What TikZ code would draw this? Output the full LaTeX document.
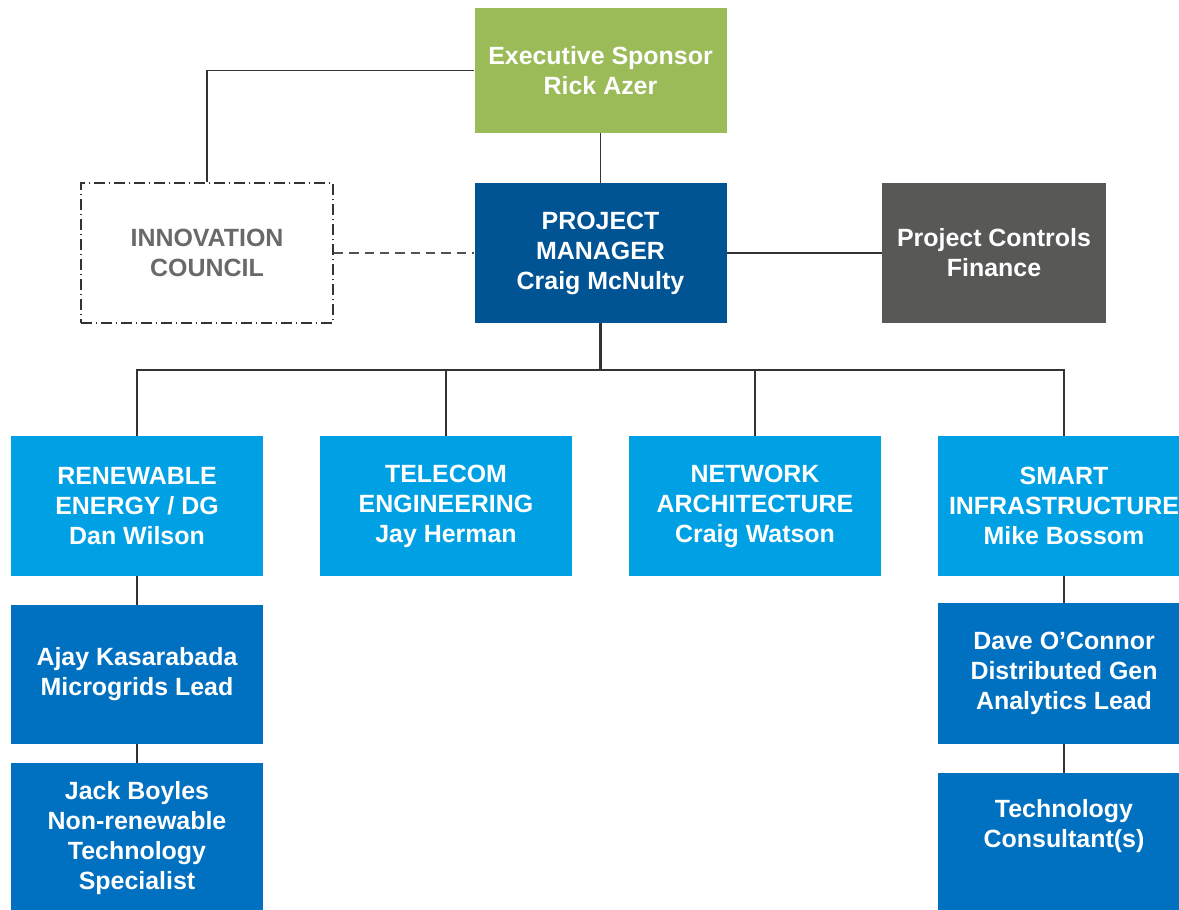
\documentclass[tikz,border=0pt]{standalone}
\usepackage{fontspec}
\setmainfont{Liberation Sans}
\definecolor{esgreen}{RGB}{155,187,89}
\definecolor{pmblue}{RGB}{1,84,148}
\definecolor{ctlgray}{RGB}{88,89,87}
\definecolor{lvlblue}{RGB}{0,161,228}
\definecolor{subblue}{RGB}{0,112,192}
\definecolor{linegray}{RGB}{51,51,51}
\definecolor{txtgray}{RGB}{105,105,105}
\tikzset{
  box/.style={rectangle, inner sep=0pt, align=center, text=white,
    font=\fontsize{18.7}{22.5}\selectfont\bfseries,
    minimum width=252*0.75pt, minimum height=140*0.75pt},
  esbox/.style={box, fill=esgreen, minimum height=125*0.75pt},
  pmbox/.style={box, fill=pmblue},
  ctlbox/.style={box, fill=ctlgray, minimum width=224*0.75pt},
  icbox/.style={box, fill=white, text=txtgray, draw=linegray, line width=1.3pt,
    dash pattern=on 8pt off 3pt on 1pt off 3pt},
  lvlbox/.style={box, fill=lvlblue},
  subbox/.style={box, fill=subblue},
  txt/.style={align=center, text=white, inner sep=0pt,
    font=\fontsize{18.7}{22.5}\selectfont\bfseries},
  conn/.style={draw=linegray, line width=1.1pt},
  dconn/.style={draw=linegray!85, line width=1.3pt, dash pattern=on 7pt off 4.5pt}
}
\begin{document}
\begin{tikzpicture}[x=0.75pt, y=-0.75pt]
\useasboundingbox (0,0) rectangle (1179,910);
\clip (0,0) rectangle (1179,910);
\fill[white] (0,0) rectangle (1179,910);
% top
\node[esbox] (es) at (600.5,70.5) {Executive Sponsor\\Rick Azer};
\node[pmbox] (pm) at (600.5,253) {PROJECT\\MANAGER\\Craig McNulty};
\node[icbox] (ic) at (207,253) {INNOVATION\\COUNCIL};
\node[ctlbox] (ctl) at (994,253) {Project Controls\\Finance};
% level 2
\node[lvlbox] (re) at (137,506) {RENEWABLE\\ENERGY / DG\\Dan Wilson};
\node[lvlbox] (te) at (446,506) {TELECOM\\ENGINEERING\\Jay Herman};
\node[lvlbox] (na) at (755,506) {NETWORK\\ARCHITECTURE\\Craig Watson};
\node[lvlbox] (si) at (1064,506) {SMART\\INFRASTRUCTURE\\Mike Bossom};
% level 3
\node[subbox, minimum height=139*0.75pt] (ak) at (137,674.5) {Ajay Kasarabada\\Microgrids Lead};
\node[subbox, minimum height=150*0.75pt] (jb) at (137,838) {Jack Boyles\\Non-renewable\\Technology\\Specialist};
\node[subbox, minimum height=141*0.75pt] (do) at (1064,673.5) {Dave O'Connor\\Distributed Gen\\Analytics Lead};
\node[subbox, minimum height=150*0.75pt] (tc) at (1064,848) {};
\node[txt] (tct) at (1064,826) {Technology\\Consultant(s)};
% connectors
\draw[conn] (es.west) -| (ic.north);
\draw[conn] (es.south) -- (pm.north);
\draw[dconn] (ic.east) -- (pm.west);
\draw[conn] (pm.east) -- (ctl.west);
\coordinate (bus) at (600.5,370);
\draw[conn, line width=1.6pt] (pm.south) -- (bus);
\draw[conn] (bus) -| (re.north);
\draw[conn] (bus) -| (te.north);
\draw[conn] (bus) -| (na.north);
\draw[conn] (bus) -| (si.north);
\draw[conn] (re.south) -- (ak.north);
\draw[conn] (ak.south) -- (jb.north);
\draw[conn] (si.south) -- (do.north);
\draw[conn] (do.south) -- (tc.north);
\end{tikzpicture}
\end{document}
